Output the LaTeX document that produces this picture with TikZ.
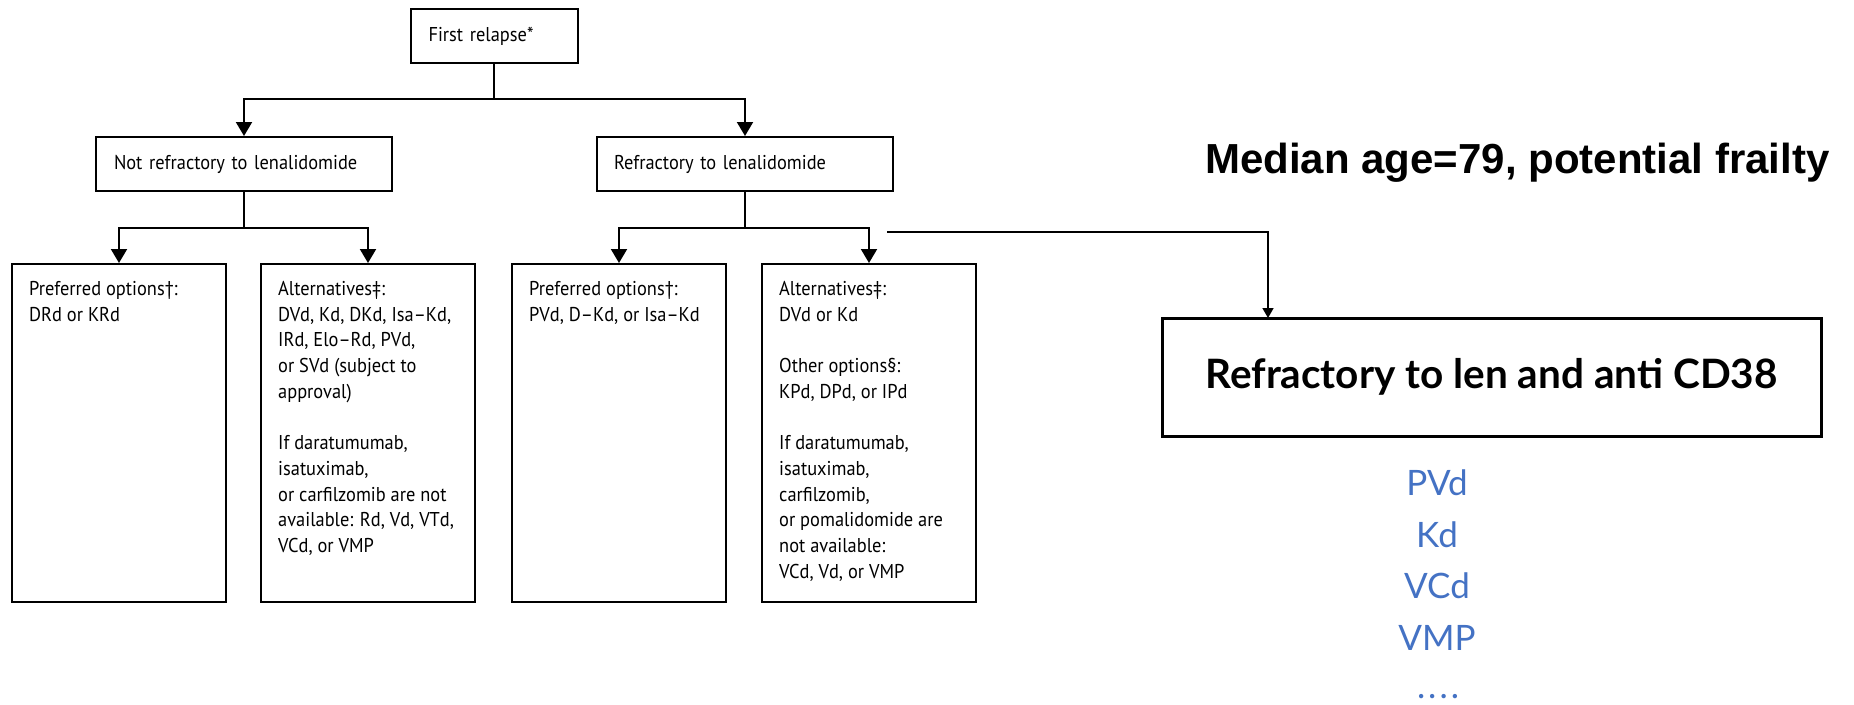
\documentclass[tikz,border=0pt]{standalone}
\usepackage{fontspec}
\usetikzlibrary{arrows.meta,calc}
\newfontfamily\lancetfont[FakeStretch=0.92]{PT Sans}
\newfontfamily\arialfont{Liberation Sans}
\newfontfamily\geofont{Lato}
\definecolor{listblue}{HTML}{4472C4}

\begin{document}
\begin{tikzpicture}[x=1pt,y=-1pt,
  box/.style={draw, line width=2pt, rectangle, inner sep=0pt},
  headbox/.style={box, minimum height=54pt, align=left,
    font=\lancetfont\fontsize{20}{25.7}\selectfont},
  optbox/.style={box, minimum width=214pt, minimum height=338pt},
  boxtext/.style={font=\lancetfont\fontsize{20}{25.7}\selectfont,
    align=left, anchor=north west, inner sep=0pt},
  link/.style={line width=2pt},
  flow/.style={link, -{Triangle[width=16pt,length=14pt]}},
  thin flow/.style={line width=1.6pt, -{Triangle[width=11pt,length=10pt]}},
  listitem/.style={font=\geofont\fontsize{35}{42}\selectfont, text=listblue,
    anchor=base, inner sep=0pt}
]
\useasboundingbox (0,0) rectangle (1854,704);

% top of the tree
\node[headbox, minimum width=167pt, text width=131pt] (fr) at (494,36) {First relapse*};
\node[headbox, minimum width=296pt, text width=260pt] (nr) at (244,164) {Not refractory to lenalidomide};
\node[headbox, minimum width=296pt, text width=262pt] (rf) at (745,164) {Refractory to lenalidomide};

% option boxes
\node[optbox] (b1) at (119,433) {};
\node[optbox] (b2) at (368,433) {};
\node[optbox] (b3) at (619,433) {};
\node[optbox] (b4) at (869,433) {};

\node[boxtext] (t1) at ($(b1.north west)+(18,18)$) {Preferred options†:\\DRd or KRd};
\node[boxtext] (t2) at ($(b2.north west)+(18,18)$) {Alternatives‡:\\DVd, Kd, DKd, Isa–Kd,\\IRd, Elo–Rd, PVd,\\or SVd (subject to\\approval)\\[25.7pt]If daratumumab,\\isatuximab,\\or carfilzomib are not\\available: Rd, Vd, VTd,\\VCd, or VMP};
\node[boxtext] (t3) at ($(b3.north west)+(18,18)$) {Preferred options†:\\PVd, D–Kd, or Isa–Kd};
\node[boxtext] (t4) at ($(b4.north west)+(18,18)$) {Alternatives‡:\\DVd or Kd\\[25.7pt]Other options§:\\KPd, DPd, or IPd\\[25.7pt]If daratumumab,\\isatuximab,\\carfilzomib,\\or pomalidomide are\\not available:\\VCd, Vd, or VMP};

% connectors
\coordinate (j0) at (494,99);
\coordinate (j1) at (244,228);
\coordinate (j2) at (745,228);
\draw[link] (fr.south) -- (j0);
\draw[flow] (j0) -| (nr.north);
\draw[flow] (j0) -| (rf.north);
\draw[link] (nr.south) -- (j1);
\draw[flow] (j1) -| (b1.north);
\draw[flow] (j1) -| (b2.north);
\draw[link] (rf.south) -- (j2);
\draw[flow] (j2) -| (b3.north);
\draw[flow] (j2) -| (b4.north);

% right-hand panel
\node[font=\arialfont\bfseries\fontsize{42}{50}\selectfont, anchor=base west, inner sep=0pt]
  (med) at (1205,173) {Median age=79, potential frailty};
\node[box, line width=3pt, minimum width=659pt, minimum height=118pt,
  font=\geofont\bfseries\fontsize{40.5}{48}\selectfont] (cd) at (1491.5,377)
  {Refractory to len and anti CD38};
\coordinate (lead) at (887,232);
\coordinate (cdin) at (1268,318);
\draw[thin flow] (lead) -| (cdin);

\node[listitem] (l1) at (1437,495) {PVd};
\node[listitem] (l2) at (1437,547) {Kd};
\node[listitem] (l3) at (1437,598) {VCd};
\node[listitem] (l4) at (1437,650) {VMP};
\node[listitem] (l5) at (1438,698) {.\kern3pt.\kern3pt.\kern3pt.};
\end{tikzpicture}
\end{document}
